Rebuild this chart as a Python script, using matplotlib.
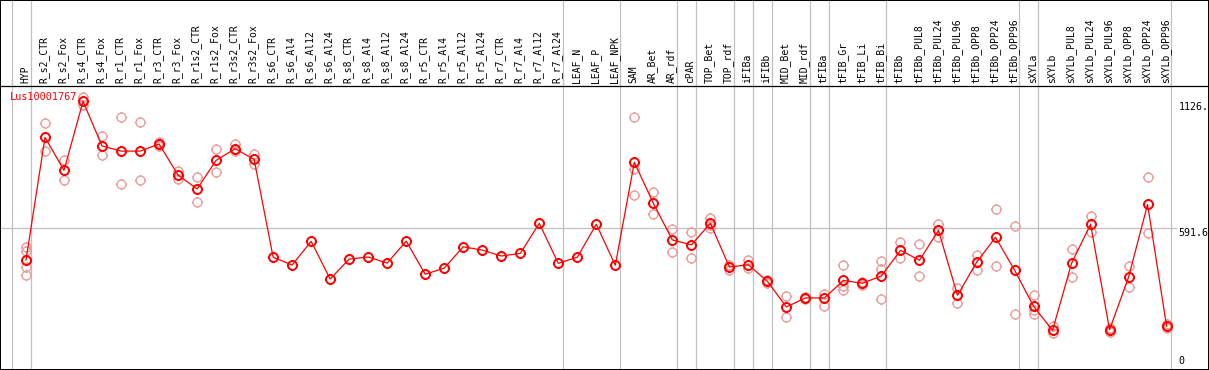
import matplotlib
matplotlib.use("Agg")
import matplotlib.pyplot as plt
from matplotlib.path import Path
import numpy as np

gene = "Lus10001767"

categories = ["HYP", "R_s2_CTR", "R_s2_Fox", "R_s4_CTR", "R_s4_Fox", "R_r1_CTR", "R_r1_Fox",
              "R_r3_CTR", "R_r3_Fox", "R_r1s2_CTR", "R_r1s2_Fox", "R_r3s2_CTR", "R_r3s2_Fox",
              "R_s6_CTR", "R_s6_Al4", "R_s6_Al12", "R_s6_Al24", "R_s8_CTR", "R_s8_Al4",
              "R_s8_Al12", "R_s8_Al24", "R_r5_CTR", "R_r5_Al4", "R_r5_Al12", "R_r5_Al24",
              "R_r7_CTR", "R_r7_Al4", "R_r7_Al12", "R_r7_Al24", "LEAF_N", "LEAF_P", "LEAF_NPK",
              "SAM", "AR_Bet", "AR_rdf", "cPAR", "TOP_Bet", "TOP_rdf", "iFIBa", "iFIBb",
              "MID_Bet", "MID_rdf", "tFIBa", "tFIB_Gr", "tFIB_Li", "tFIB_Bi", "tFIBb",
              "tFIBb_PUL8", "tFIBb_PUL24", "tFIBb_PUL96", "tFIBb_OPP8", "tFIBb_OPP24",
              "tFIBb_OPP96", "sXYLa", "sXYLb", "sXYLb_PUL8", "sXYLb_PUL24", "sXYLb_PUL96",
              "sXYLb_OPP8", "sXYLb_OPP24", "sXYLb_OPP96"]

means = [458, 976, 837, 1128, 940, 918, 918, 948, 817, 758, 879, 928, 883,
         470, 437, 537, 378, 462, 471, 445, 538, 398, 424, 514, 500,
         475, 486, 613, 444, 470, 609, 436,
         871, 698, 543, 522, 613, 429, 438, 368,
         260, 298, 298, 372, 360, 391, 499,
         457, 583, 309, 448, 554, 416,
         263, 161, 444, 609, 164, 386, 693, 178]

replicates = [[514, 497, 427, 394], [1035, 918], [879, 795], [1145, 1112], [980, 900],
              [1061, 778], [1041, 796], [955, 941], [835, 800], [807, 702], [926, 829],
              [947, 918], [906, 865],
              [], [], [], [], [], [], [], [], [], [], [], [], [], [], [], [], [], [], [],
              [1061, 842, 733], [744, 651], [588, 491], [576, 465], [637, 595, 608],
              [437, 416], [457, 426], [375, 362], [305, 216], [302, 294], [315, 265],
              [436, 350, 333], [365, 352], [453, 419, 292], [534, 467], [524, 389],
              [610, 554], [341, 278], [478, 417], [672, 432], [600, 230],
              [310, 246, 231], [178, 149], [505, 385], [644, 576], [155, 170],
              [433, 343], [810, 571], [188, 170]]

# group separators (drawn just right of these category indices)
separators_after = [-1, 0, 28, 31, 34, 35, 37, 38, 39, 41, 42, 45, 52, 53, 60]

ref_lines = [1126.0, 591.6, 0]
ref_labels = ["1126.", "591.6", "0"]

# ---- layout (pixels) ----
W, H = 1209, 370
x0, dx = 26.0, 19.01          # pixel x of first category, spacing
y0_px, k = 368.5, 0.2368      # pixel y (from top) of value 0, pixels per unit

fig = plt.figure(figsize=(W / 100, H / 100), dpi=100)
ax = fig.add_axes([0, 0, 1, 1])
ax.set_xlim(-x0 / dx, (W - x0) / dx)
ax.set_ylim(-(H - y0_px) / k, y0_px / k)
ax.set_xticks([])
ax.set_yticks([])
for s in ax.spines.values():
    s.set_color("black")
    s.set_linewidth(1.44)

def px2val(ypx):
    return (y0_px - ypx) / k

# marker: circle with small outward ticks
circ = Path.circle((0, 0), 1.0)
ticks = []
codes = []
for ang in (0, np.pi / 2, np.pi, 3 * np.pi / 2):
    c, s_ = np.cos(ang), np.sin(ang)
    ticks += [(c * 1.0, s_ * 1.0), (c * 1.25, s_ * 1.25)]
    codes += [Path.MOVETO, Path.LINETO]
tick_path = Path(ticks, codes)
marker_path = Path.make_compound_path(circ, tick_path)

pink = "#eb9c9c"
red = "#ff0000"
msize = 8.0

# grid / separators
for i in separators_after:
    ax.axvline(i + 0.25, color="#c0c0c0", lw=0.9, zorder=1)
ax.hlines(591.6, ax.get_xlim()[0], (1177 - x0) / dx, color="#c0c0c0", lw=0.9, zorder=1)
ax.axhline(px2val(85.5), color="black", lw=0.9, zorder=2)

# replicates
xs = np.arange(len(categories))
for i, reps in enumerate(replicates):
    if reps:
        ax.plot([i] * len(reps), reps, linestyle="none", marker=marker_path, markersize=msize,
                markerfacecolor="none", markeredgecolor=pink, markeredgewidth=1.0, zorder=3)

# mean line and markers
ax.plot(xs, means, color=red, lw=0.9, zorder=4)
ax.plot(xs, means, linestyle="none", marker=marker_path, markersize=msize,
        markerfacecolor="none", markeredgecolor=red, markeredgewidth=1.4, zorder=5)

# category labels
for i, lab in enumerate(categories):
    ax.text(i - 0.05, px2val(83), lab, rotation=90, ha="center", va="bottom",
            fontsize=7.0, family="DejaVu Sans Mono", color="black", zorder=6)

# gene name
ax.text(-x0 / dx + 9.5 / dx, px2val(92.5), gene, ha="left", va="top", fontsize=7.4,
        family="DejaVu Sans Mono", color=red, zorder=6)

# right reference labels
xr = (1178.5 - x0) / dx
for v, lab in zip(ref_lines, ref_labels):
    va = "bottom" if v == 0 else "top"
    yv = px2val(366) if v == 0 else v
    ax.text(xr, yv, lab, ha="left", va=va, fontsize=7.2, family="DejaVu Sans Mono",
            color="black", zorder=6)

fig.savefig("out.png", dpi=100)
